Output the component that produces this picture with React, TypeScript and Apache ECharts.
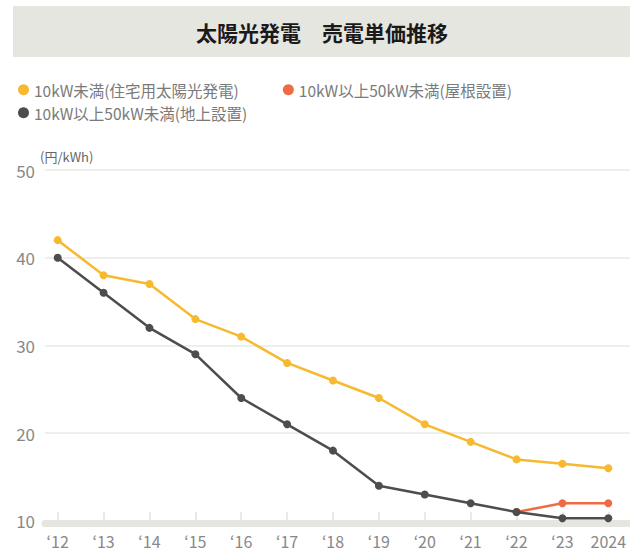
import React, { useEffect, useRef } from "react";
import * as echarts from "echarts";

const categories = ["‘12", "‘13", "‘14", "‘15", "‘16", "‘17", "‘18", "‘19", "‘20", "‘21", "‘22", "‘23", "2024"];
const residential = [42, 38, 37, 33, 31, 28, 26, 24, 21, 19, 17, 16.5, 16];
const roofMounted = [null, null, null, null, null, null, null, null, null, null, 11, 12, 12];
const groundMounted = [40, 36, 32, 29, 24, 21, 18, 14, 13, 12, 11, 10.3, 10.3];
const yTicks = { min: 10, max: 50, interval: 10 };

const NAME_RES = "10kW未満(住宅用太陽光発電)";
const NAME_ROOF = "10kW以上50kW未満(屋根設置)";
const NAME_GROUND = "10kW以上50kW未満(地上設置)";

const FONT = "'Noto Sans CJK JP', 'Noto Sans', sans-serif";

export default function App() {
  const ref = useRef<HTMLDivElement>(null);
  useEffect(() => {
    if (!ref.current) return;
    const chart = echarts.init(ref.current, null, { renderer: "svg" });
    const top = 170;
    const bottom = 33.2;
    chart.setOption({
      animation: false,
      backgroundColor: "#ffffff",
      textStyle: { fontFamily: FONT },
      graphic: [
        {
          type: "rect",
          shape: { x: 13, y: 6, width: 617, height: 51 },
          style: { fill: "#e6e6e1" },
          z: 0,
        },
        {
          type: "text",
          x: 322,
          y: 32,
          style: {
            text: "太陽光発電　売電単価推移",
            font: `bold 21px ${FONT}`,
            fill: "#1a1a1a",
            align: "center",
            verticalAlign: "middle",
          },
          z: 1,
        },
        {
          type: "text",
          x: 40,
          y: 156,
          style: {
            text: "(円/kWh)",
            font: `13px ${FONT}`,
            fill: "#666666",
            align: "left",
            verticalAlign: "middle",
          },
        },
      ],
      legend: [
        {
          data: [NAME_RES, NAME_ROOF],
          left: 13,
          top: 77,
          icon: "circle",
          itemWidth: 11,
          itemHeight: 11,
          itemGap: 44,
          textStyle: { color: "#7a7a7a", fontSize: 15.5, fontFamily: FONT },
        },
        {
          data: [NAME_GROUND],
          left: 13,
          top: 100,
          icon: "circle",
          itemWidth: 11,
          itemHeight: 11,
          textStyle: { color: "#7a7a7a", fontSize: 15.5, fontFamily: FONT },
        },
      ],
      grid: [
        { left: 45, right: 0, top, bottom },
        { left: 57.7, right: 21.7, top, bottom },
      ],
      xAxis: [
        {
          gridIndex: 0,
          type: "value",
          min: 0,
          max: 1,
          offset: 2,
          axisLine: { show: true, lineStyle: { color: "#e6e6e0", width: 7 } },
          axisTick: { show: false },
          axisLabel: { show: false },
          splitLine: { show: false },
        },
        {
          gridIndex: 1,
          type: "category",
          data: categories,
          boundaryGap: false,
          axisLine: { show: false },
          axisTick: {
            show: true,
            inside: true,
            length: 9,
            interval: 0,
            alignWithLabel: true,
            lineStyle: { color: "#e2e2dc", width: 1.5 },
          },
          axisLabel: { interval: 0, color: "#888888", fontSize: 16, margin: 12, fontFamily: FONT },
          splitLine: { show: false },
        },
      ],
      yAxis: [
        {
          gridIndex: 0,
          type: "value",
          min: yTicks.min,
          max: yTicks.max,
          interval: yTicks.interval,
          axisLine: { show: false },
          axisTick: { show: false },
          axisLabel: { color: "#888888", fontSize: 17, margin: 10, fontFamily: FONT },
          splitLine: { show: true, lineStyle: { color: "#e8e8e3", width: 1.5 } },
        },
        {
          gridIndex: 1,
          type: "value",
          min: yTicks.min,
          max: yTicks.max,
          interval: yTicks.interval,
          show: false,
          splitLine: { show: false },
        },
      ],
      series: [
        {
          name: NAME_RES,
          type: "line",
          xAxisIndex: 1,
          yAxisIndex: 1,
          data: residential,
          color: "#f6b92f",
          symbol: "circle",
          symbolSize: 8,
          lineStyle: { width: 2.5 },
          z: 3,
        },
        {
          name: NAME_ROOF,
          type: "line",
          xAxisIndex: 1,
          yAxisIndex: 1,
          data: roofMounted,
          color: "#ee6b45",
          symbol: "circle",
          symbolSize: 8,
          lineStyle: { width: 2.5 },
          z: 3,
        },
        {
          name: NAME_GROUND,
          type: "line",
          xAxisIndex: 1,
          yAxisIndex: 1,
          data: groundMounted,
          color: "#4d4d4d",
          symbol: "circle",
          symbolSize: 8,
          lineStyle: { width: 2.5 },
          z: 4,
        },
      ],
    });
    return () => chart.dispose();
  }, []);
  return <div ref={ref} style={{ width: 630, height: 554, position: "absolute", left: 0, top: 0 }} />;
}
